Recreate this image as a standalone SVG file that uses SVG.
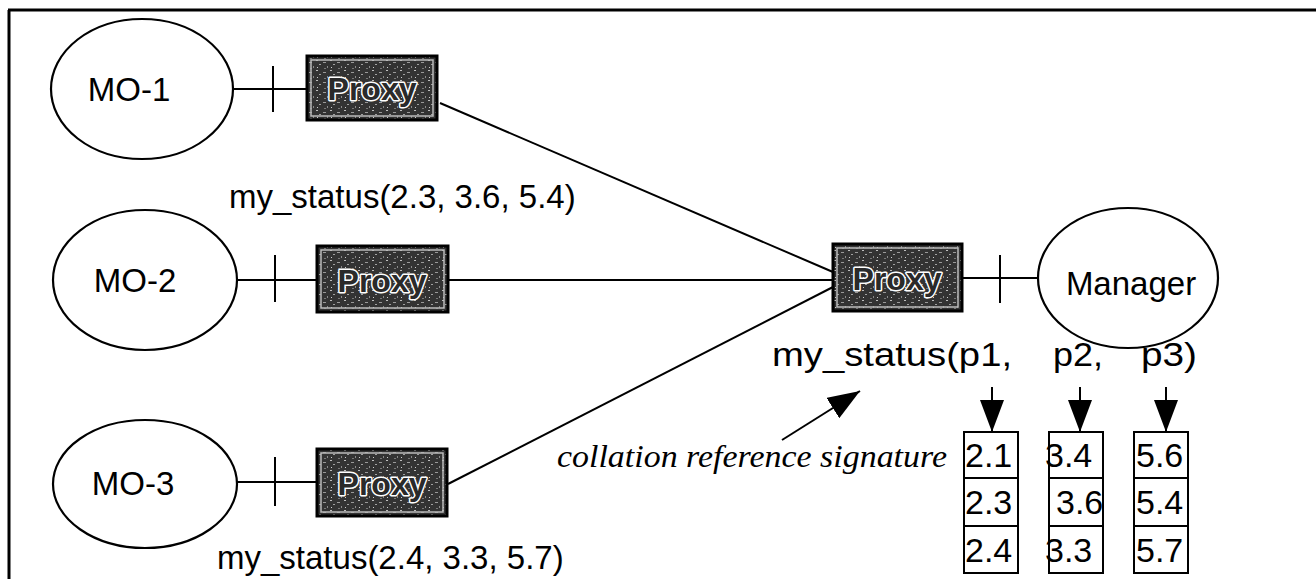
<svg xmlns="http://www.w3.org/2000/svg" width="1316" height="579" viewBox="0 0 1316 579">
<style>
.ell{fill:#fff;stroke:#000;stroke-width:2.2}
.ln{stroke:#000;stroke-width:2;fill:none}
.lbl{font-family:"Liberation Sans",Arial,sans-serif;font-size:33px;fill:#000}
.sig{font-family:"Liberation Sans",Arial,sans-serif;font-size:34px;fill:#000}
.px{fill:url(#grain);stroke:#000;stroke-width:3}
.pxi{fill:none;stroke:#bbb;stroke-width:1.5}
.pt{font-family:"Liberation Sans",Arial,sans-serif;font-weight:bold;font-size:32px;fill:#2a2a2a;stroke:#fff;stroke-width:3;paint-order:stroke;stroke-linejoin:round}
.cell{fill:#fff;stroke:#000;stroke-width:2}
.num{font-family:"Liberation Sans",Arial,sans-serif;font-size:34px;fill:#000}
.it{font-family:"Liberation Serif","Times New Roman",serif;font-style:italic;font-size:32px;fill:#000}
</style>
<defs>
<pattern id="grain" width="14" height="10" patternUnits="userSpaceOnUse">
<rect width="14" height="10" fill="#333"/>
<rect x="1" y="2" width="3" height="1" fill="#9a9a9a"/>
<rect x="8" y="0" width="2" height="1" fill="#bdbdbd"/>
<rect x="5" y="6" width="1" height="2" fill="#8a8a8a"/>
<rect x="11" y="4" width="2" height="1" fill="#a0a0a0"/>
<rect x="2" y="8" width="2" height="1" fill="#777"/>
<rect x="9" y="7" width="1" height="1" fill="#ccc"/>
</pattern>
<marker id="ahb" viewBox="0 0 32 24" refX="32" refY="12" markerWidth="32" markerHeight="24" markerUnits="userSpaceOnUse" orient="auto">
<path d="M0,0 L32,12 L0,24 z" fill="#000"/>
</marker>
</defs>
<rect width="1316" height="579" fill="#fff"/>
<g id="frame">
<path d="M8,10 H1316 M9,10 V579" stroke="#000" stroke-width="3" fill="none"/>
</g>
<g id="connectors">
<path class="ln" d="M233,89 H307 M273,66 V112"/>
<path class="ln" d="M237,280 H317 M275,255 V302"/>
<path class="ln" d="M237,482 H317 M275,457 V506"/>
<path class="ln" d="M440,103 L833,272"/>
<path class="ln" d="M448,280 H833"/>
<path class="ln" d="M448,484 L833,287"/>
<path class="ln" d="M962,278 H1038 M1000,255 V303"/>
<path class="ln" d="M992,387 V432" marker-end="url(#ahb)"/>
<path class="ln" d="M1080,387 V432" marker-end="url(#ahb)"/>
<path class="ln" d="M1166,387 V432" marker-end="url(#ahb)"/>
<path class="ln" d="M782,440 L860,391" marker-end="url(#ahb)"/>
</g>
<g id="mo1">
<ellipse class="ell" cx="142" cy="89" rx="91" ry="70"/>
<text class="lbl" x="129" y="101" text-anchor="middle">MO-1</text>
</g>
<g id="mo2">
<ellipse class="ell" cx="145" cy="280" rx="92" ry="70"/>
<text class="lbl" x="135" y="292" text-anchor="middle">MO-2</text>
</g>
<g id="mo3">
<ellipse class="ell" cx="145" cy="484" rx="92" ry="64"/>
<text class="lbl" x="133" y="495" text-anchor="middle">MO-3</text>
</g>
<g id="proxy1">
<rect class="px" x="307" y="56" width="130" height="64"/>
<rect class="pxi" x="311" y="60" width="122" height="56"/>
<text class="pt" x="372" y="100" text-anchor="middle">Proxy</text>
</g>
<g id="proxy2">
<rect class="px" x="317" y="246" width="131" height="66"/>
<rect class="pxi" x="321" y="250" width="123" height="58"/>
<text class="pt" x="382" y="292" text-anchor="middle">Proxy</text>
</g>
<g id="proxy3">
<rect class="px" x="317" y="449" width="130" height="67"/>
<rect class="pxi" x="321" y="453" width="122" height="59"/>
<text class="pt" x="382" y="495" text-anchor="middle">Proxy</text>
</g>
<g id="proxyc">
<rect class="px" x="833" y="244" width="129" height="67"/>
<rect class="pxi" x="837" y="248" width="121" height="59"/>
<text class="pt" x="897" y="290" text-anchor="middle">Proxy</text>
</g>
<g id="manager">
<ellipse class="ell" cx="1128" cy="278" rx="90" ry="70"/>
<text class="lbl" x="1131" y="295" text-anchor="middle">Manager</text>
</g>
<g id="labels">
<text class="lbl" x="229" y="208">my_status(2.3, 3.6, 5.4)</text>
<text class="lbl" x="217" y="569">my_status(2.4, 3.3, 5.7)</text>
<text class="sig" x="772" y="366" textLength="240" lengthAdjust="spacingAndGlyphs">my_status(p1,</text>
<text class="sig" x="1053" y="366" textLength="50" lengthAdjust="spacingAndGlyphs">p2,</text>
<text class="sig" x="1141" y="366" textLength="56" lengthAdjust="spacingAndGlyphs">p3)</text>
<text class="it" x="557" y="467" textLength="390" lengthAdjust="spacingAndGlyphs">collation reference signature</text>
</g>
<g id="table">
<rect class="cell" x="964" y="432" width="54" height="46"/>
<rect class="cell" x="964" y="478" width="54" height="48"/>
<rect class="cell" x="964" y="526" width="54" height="47"/>
<rect class="cell" x="1049" y="432" width="54" height="46"/>
<rect class="cell" x="1049" y="478" width="54" height="48"/>
<rect class="cell" x="1049" y="526" width="54" height="47"/>
<rect class="cell" x="1134" y="432" width="54" height="46"/>
<rect class="cell" x="1134" y="478" width="54" height="48"/>
<rect class="cell" x="1134" y="526" width="54" height="47"/>
<text class="num" x="965" y="467">2.1</text>
<text class="num" x="965" y="514">2.3</text>
<text class="num" x="965" y="562">2.4</text>
<text class="num" x="1045" y="467">3.4</text>
<text class="num" x="1056" y="514">3.6</text>
<text class="num" x="1045" y="562">3.3</text>
<text class="num" x="1136" y="467">5.6</text>
<text class="num" x="1136" y="514">5.4</text>
<text class="num" x="1136" y="562">5.7</text>
</g>
</svg>
